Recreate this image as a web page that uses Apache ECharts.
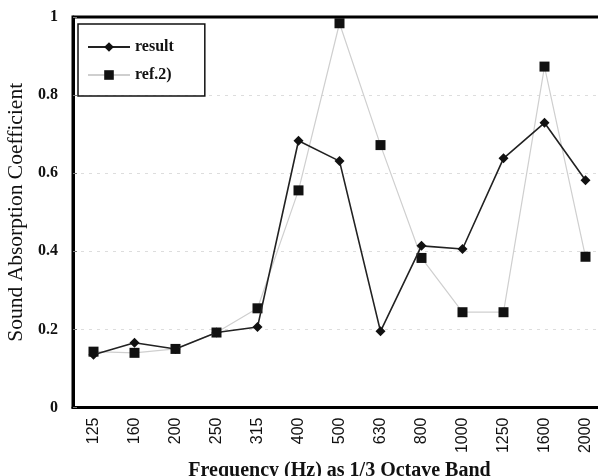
<!DOCTYPE html>
<html>
<head>
<meta charset="utf-8">
<script src="https://cdn.jsdelivr.net/npm/echarts@6/dist/echarts.min.js"></script>
<style>
  html, body { margin: 0; padding: 0; background: #fff; }
  #chart { width: 598px; height: 476px; }
</style>
</head>
<body>
<div id="chart"></div>
<script>
// 1/3 octave band centre frequencies (Hz)
const bands = ['125', '160', '200', '250', '315', '400', '500', '630', '800', '1000', '1250', '1600', '2000'];
// Measured absorption coefficients
const resultValues = [0.135, 0.166, 0.15, 0.192, 0.206, 0.683, 0.631, 0.195, 0.414, 0.406, 0.638, 0.729, 0.582];
// Reference data
const refValues = [0.143, 0.14, 0.15, 0.192, 0.254, 0.556, 0.984, 0.672, 0.383, 0.244, 0.244, 0.873, 0.386];
const yTicks = [0, 0.2, 0.4, 0.6, 0.8, 1];

const serif = '"Liberation Serif", "DejaVu Serif", serif';
const sans = '"Liberation Sans", Arial, sans-serif';
const chart = echarts.init(document.getElementById('chart'));

chart.setOption({
  animation: false,
  backgroundColor: '#fff',
  textStyle: { fontFamily: serif },
  grid: {
    left: 73, top: 17, right: -8, bottom: 68.5,
    outerBoundsMode: 'none',
    show: true, borderWidth: 3, borderColor: '#000', backgroundColor: 'transparent'
  },
  legend: {
    left: 78, top: 24,
    orient: 'vertical',
    itemWidth: 42, itemHeight: 12, itemGap: 12,
    padding: [15, 31, 13, 9],
    borderColor: '#111', borderWidth: 1.5,
    textStyle: { fontFamily: serif, fontSize: 16, fontWeight: 'bold', color: '#111' },
    data: ['result', 'ref.2)']
  },
  xAxis: {
    type: 'category',
    data: bands,
    boundaryGap: true,
    name: 'Frequency (Hz) as 1/3 Octave Band',
    nameLocation: 'middle',
    nameGap: 49,
    nameTextStyle: { fontFamily: serif, fontSize: 20, fontWeight: 'bold', color: '#111' },
    axisLine: { lineStyle: { color: '#000', width: 3 } },
    axisTick: { inside: true, length: 4, lineStyle: { color: '#555' } },
    axisLabel: { rotate: 90, fontSize: 16, color: '#111', margin: 10, fontFamily: sans },
    splitLine: { show: false }
  },
  yAxis: {
    type: 'value',
    min: 0, max: 1, interval: 0.2,
    name: 'Sound Absorption Coefficient',
    nameLocation: 'middle',
    nameGap: 45,
    nameRotate: 90,
    nameTextStyle: { fontFamily: serif, fontSize: 21.5, color: '#111' },
    axisLine: { show: true, lineStyle: { color: '#000', width: 3 } },
    axisTick: { show: true, inside: true, length: 4, lineStyle: { color: '#777' } },
    axisLabel: {
      fontSize: 16, fontWeight: 'bold', color: '#111', margin: 15, fontFamily: serif,
      formatter: v => (yTicks.includes(Math.round(v * 10) / 10) ? String(Math.round(v * 10) / 10) : '')
    },
    splitLine: {
      show: true, showMinLine: false, showMaxLine: false,
      lineStyle: { color: '#ddd', type: [3, 5], width: 1 }
    }
  },
  series: [
    {
      name: 'result',
      type: 'line',
      data: resultValues,
      symbol: 'diamond',
      symbolSize: 10,
      itemStyle: { color: '#111' },
      lineStyle: { color: '#222', width: 1.6 },
      z: 3
    },
    {
      name: 'ref.2)',
      type: 'line',
      data: refValues,
      symbol: 'rect',
      symbolSize: 10,
      itemStyle: { color: '#111' },
      lineStyle: { color: '#cfcfcf', width: 1.2 },
      z: 2
    }
  ]
});
</script>
</body>
</html>
